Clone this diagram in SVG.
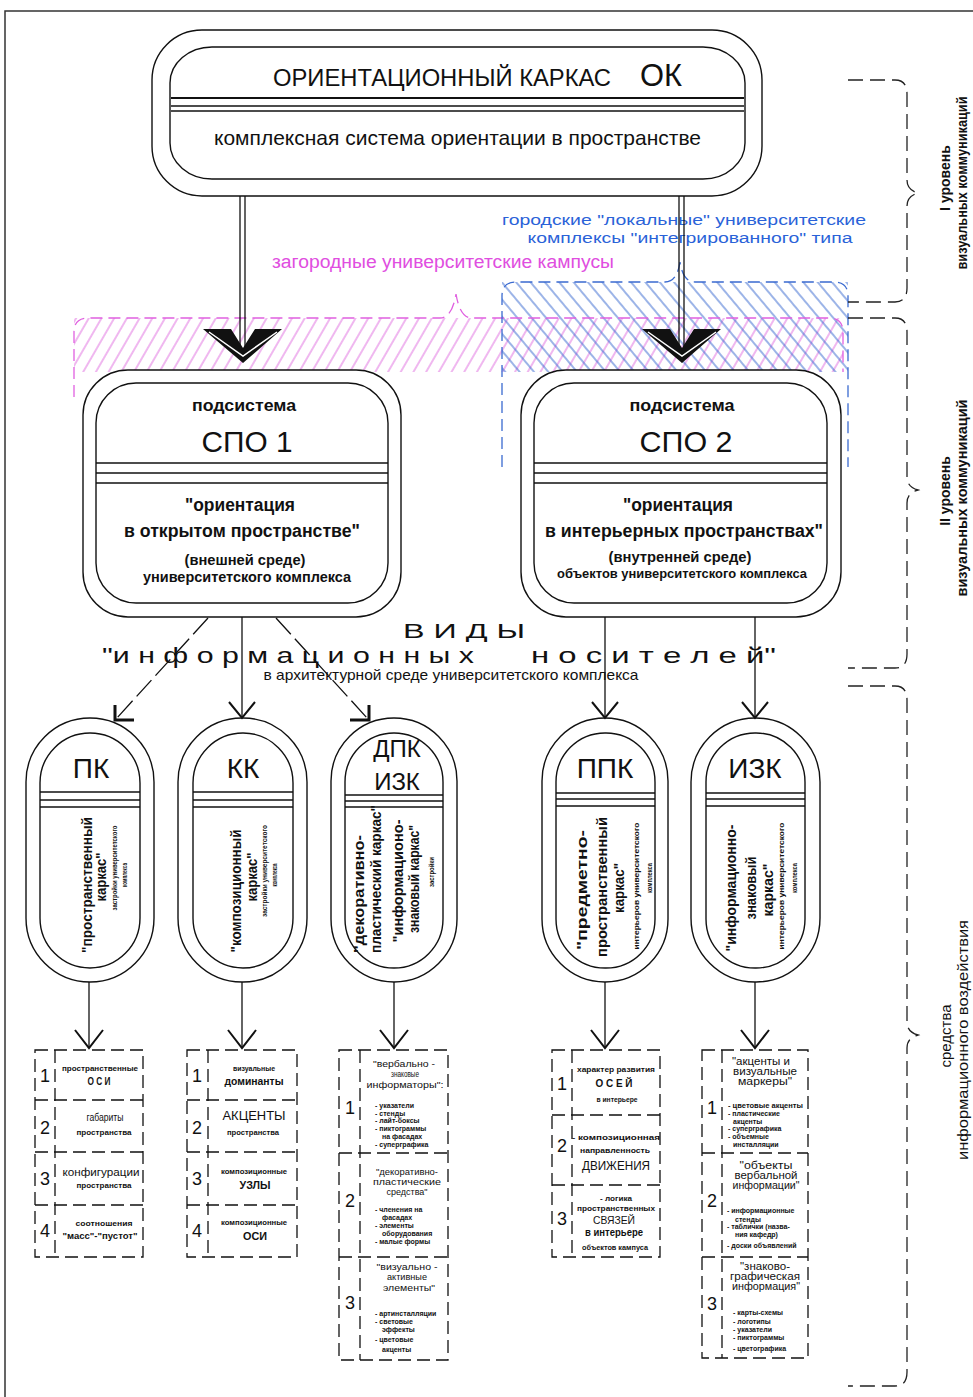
<svg xmlns="http://www.w3.org/2000/svg" width="973" height="1397" viewBox="0 0 973 1397">
<style>
.nd{fill:#fff;stroke:#111;stroke-width:1.4}
.ni{fill:none;stroke:#111;stroke-width:1.4}
.ln{fill:none;stroke:#111;stroke-width:1.4}
.t{font-family:"Liberation Sans",Arial,sans-serif;fill:#111}
.nw{font-family:"Liberation Sans Narrow","Liberation Sans",Arial,sans-serif;fill:#111}
.b{font-weight:bold}
.m{text-anchor:middle}
.dash{fill:none;stroke:#111;stroke-width:1.3;stroke-dasharray:13 6}
.br{fill:none;stroke:#222;stroke-width:1.3;stroke-dasharray:15 7}
.arr{fill:none;stroke:#111;stroke-width:2}
.arrb{fill:none;stroke:#111;stroke-width:3}
.cl{fill:none;stroke:#111;stroke-width:1.3}
.dl{fill:none;stroke:#111;stroke-width:1.3;stroke-dasharray:22 6}
.mg{fill:none;stroke:#e060e0;stroke-width:1.3;stroke-dasharray:12 6}
.bl{fill:none;stroke:#3a6ad0;stroke-width:1.3;stroke-dasharray:12 6}
.it{font-family:"Liberation Sans",Arial,sans-serif;fill:#111;font-size:7px;font-weight:bold}
</style>
<defs>
<pattern id="hm" width="11" height="11" patternUnits="userSpaceOnUse" patternTransform="rotate(30)"><line x1="5" y1="0" x2="5" y2="11" stroke="#e070e0" stroke-width="1"/></pattern>
<pattern id="hb" width="11" height="11" patternUnits="userSpaceOnUse" patternTransform="rotate(-40)"><line x1="5" y1="0" x2="5" y2="11" stroke="#3a6ad0" stroke-width="1"/></pattern>
</defs>
<rect width="973" height="1397" fill="#fff"/>
<path d="M5,1397 V11 H973" fill="none" stroke="#333" stroke-width="1.5"/>

<g id="regions">
<rect x="74" y="318" width="769" height="54" fill="url(#hm)"/>
<rect x="502" y="282" width="346" height="90" fill="url(#hb)"/>
<path class="mg" d="M74,397 V332 Q74,318 88,318 H440 Q452,318 456,294 Q460,318 472,318 H829 Q843,318 843,332 V372"/>
<path class="bl" d="M502,467 V296 Q502,282 516,282 H665 Q677,282 680,262 Q683,282 695,282 H834 Q848,282 848,296 V467"/>
<text class="nw" x="684" y="225" text-anchor="middle" font-size="15.5" style="fill:#2a62d8" textLength="364" lengthAdjust="spacingAndGlyphs">городские "локальные" университетские</text>
<text class="nw" x="690" y="243" text-anchor="middle" font-size="15.5" style="fill:#2a62d8" textLength="325" lengthAdjust="spacingAndGlyphs">комплексы "интегрированного" типа</text>
<text class="nw" x="443" y="268" text-anchor="middle" font-size="18" style="fill:#e04ee0" textLength="342" lengthAdjust="spacingAndGlyphs">загородные университетские кампусы</text>
</g>

<g id="node-ok">
<rect x="152" y="30" width="610" height="166" rx="50" class="nd"/>
<rect x="170" y="47" width="575" height="132" rx="42" ry="36" class="ni"/>
<line x1="171" y1="98" x2="744" y2="98" stroke="#111" stroke-width="2"/>
<line x1="171" y1="106" x2="744" y2="106" class="ln"/>
<line x1="171" y1="111" x2="744" y2="111" class="ln"/>
<text class="nw" x="273" y="86" font-size="24" textLength="338" lengthAdjust="spacingAndGlyphs">ОРИЕНТАЦИОННЫЙ КАРКАС</text>
<text class="nw" x="640" y="86" font-size="32" textLength="42" lengthAdjust="spacingAndGlyphs">ОК</text>
<text class="nw" x="214" y="145" font-size="21" textLength="487" lengthAdjust="spacingAndGlyphs">комплексная система ориентации в пространстве</text>
</g>

<g id="node-spo1">
<rect x="83" y="370" width="318" height="247" rx="45" class="nd"/>
<rect x="96" y="383" width="292" height="220" rx="40" class="ni"/>
<line x1="96" y1="463" x2="388" y2="463" class="ln"/>
<line x1="96" y1="473" x2="388" y2="473" class="ln"/>
<line x1="96" y1="483" x2="388" y2="483" class="ln"/>
<text class="t b m" x="244" y="411" font-size="17" textLength="104" lengthAdjust="spacingAndGlyphs">подсистема</text>
<text class="t m" x="247" y="452" font-size="30" textLength="91" lengthAdjust="spacingAndGlyphs">СПО 1</text>
<text class="t b m" x="240" y="511" font-size="18" textLength="110" lengthAdjust="spacingAndGlyphs">"ориентация</text>
<text class="t b m" x="242" y="537" font-size="18" textLength="236" lengthAdjust="spacingAndGlyphs">в открытом пространстве"</text>
<text class="t b m" x="245" y="565" font-size="15" textLength="121" lengthAdjust="spacingAndGlyphs">(внешней среде)</text>
<text class="t b m" x="247" y="582" font-size="15" textLength="208" lengthAdjust="spacingAndGlyphs">университетского комплекса</text>
</g>

<g id="node-spo2">
<rect x="521" y="370" width="320" height="247" rx="45" class="nd"/>
<rect x="534" y="383" width="293" height="220" rx="40" class="ni"/>
<line x1="534" y1="463" x2="827" y2="463" class="ln"/>
<line x1="534" y1="473" x2="827" y2="473" class="ln"/>
<line x1="534" y1="483" x2="827" y2="483" class="ln"/>
<text class="t b m" x="682" y="411" font-size="17" textLength="105" lengthAdjust="spacingAndGlyphs">подсистема</text>
<text class="t m" x="686" y="452" font-size="30" textLength="93" lengthAdjust="spacingAndGlyphs">СПО 2</text>
<text class="t b m" x="678" y="511" font-size="18" textLength="110" lengthAdjust="spacingAndGlyphs">"ориентация</text>
<text class="t b m" x="684" y="537" font-size="18" textLength="278" lengthAdjust="spacingAndGlyphs">в интерьерных пространствах"</text>
<text class="t b m" x="680" y="562" font-size="15" textLength="143" lengthAdjust="spacingAndGlyphs">(внутренней среде)</text>
<text class="t b m" x="682" y="578" font-size="13" textLength="250" lengthAdjust="spacingAndGlyphs">объектов университетского комплекса</text>
</g>

<g id="label-vidy">
<text class="t m" x="464" y="638" font-size="20" textLength="122" lengthAdjust="spacingAndGlyphs">В И Д Ы</text>
<text class="t" x="102" y="663" font-size="22" textLength="372" lengthAdjust="spacingAndGlyphs">"и н ф о р м а ц и о н н ы х</text>
<text class="t" x="531" y="663" font-size="22" textLength="245" lengthAdjust="spacingAndGlyphs">н о с и т е л е й"</text>
<text class="nw m" x="451" y="680" font-size="15" textLength="375" lengthAdjust="spacingAndGlyphs">в архитектурной среде университетского комплекса</text>
</g>

<g id="node-pk">
<rect x="26" y="718" width="128" height="264" rx="64" class="nd"/>
<rect x="40" y="733" width="100" height="235" rx="50" class="ni"/>
<line x1="40" y1="792" x2="140" y2="792" class="ln"/>
<line x1="40" y1="800" x2="140" y2="800" class="ln"/>
<line x1="40" y1="807" x2="140" y2="807" class="ln"/>
<text class="t m" x="91" y="778" font-size="28">ПК</text>
<text class="t b m" transform="translate(92,885) rotate(-90)" font-size="15" textLength="136" lengthAdjust="spacingAndGlyphs">"пространственный</text>
<text class="t b m" transform="translate(106,877) rotate(-90)" font-size="15" textLength="49" lengthAdjust="spacingAndGlyphs">каркас"</text>
<text class="t b m" transform="translate(117,868) rotate(-90)" font-size="6.5" textLength="85" lengthAdjust="spacingAndGlyphs">застройки университетского</text>
<text class="t b m" transform="translate(127,875) rotate(-90)" font-size="6.5" textLength="24" lengthAdjust="spacingAndGlyphs">комплекса</text>
</g>

<g id="node-kk">
<rect x="178" y="718" width="129" height="264" rx="64" class="nd"/>
<rect x="193" y="733" width="100" height="235" rx="50" class="ni"/>
<line x1="193" y1="792" x2="293" y2="792" class="ln"/>
<line x1="193" y1="800" x2="293" y2="800" class="ln"/>
<line x1="193" y1="807" x2="293" y2="807" class="ln"/>
<text class="t m" x="243" y="778" font-size="28">КК</text>
<text class="t b m" transform="translate(241,891) rotate(-90)" font-size="15" textLength="123" lengthAdjust="spacingAndGlyphs">"композиционный</text>
<text class="t b m" transform="translate(257,877) rotate(-90)" font-size="15" textLength="49" lengthAdjust="spacingAndGlyphs">каркас"</text>
<text class="t b m" transform="translate(267,871) rotate(-90)" font-size="6.5" textLength="92" lengthAdjust="spacingAndGlyphs">застройки университетского</text>
<text class="t b m" transform="translate(277,875) rotate(-90)" font-size="6.5" textLength="23" lengthAdjust="spacingAndGlyphs">комплекса</text>
</g>

<g id="node-dpk">
<rect x="331" y="718" width="126" height="264" rx="63" class="nd"/>
<rect x="345" y="733" width="98" height="235" rx="49" class="ni"/>
<line x1="345" y1="795" x2="443" y2="795" class="ln"/>
<line x1="345" y1="801" x2="443" y2="801" class="ln"/>
<line x1="345" y1="807" x2="443" y2="807" class="ln"/>
<text class="t m" x="397" y="757" font-size="24">ДПК</text>
<text class="t m" x="397" y="790" font-size="24">ИЗК</text>
<text class="t b m" transform="translate(364,894) rotate(-90)" font-size="15" textLength="118" lengthAdjust="spacingAndGlyphs">"декоративно-</text>
<text class="t b m" transform="translate(381,879) rotate(-90)" font-size="15" textLength="148" lengthAdjust="spacingAndGlyphs">пластический каркас"</text>
<text class="t b m" transform="translate(403,881) rotate(-90)" font-size="15" textLength="123" lengthAdjust="spacingAndGlyphs">"информационо-</text>
<text class="t b m" transform="translate(419,879) rotate(-90)" font-size="15" textLength="108" lengthAdjust="spacingAndGlyphs">знаковый каркас"</text>
<text class="t b m" transform="translate(434,872) rotate(-90)" font-size="7" textLength="30" lengthAdjust="spacingAndGlyphs">застройки</text>
</g>

<g id="node-ppk">
<rect x="542" y="718" width="126" height="264" rx="63" class="nd"/>
<rect x="556" y="733" width="99" height="235" rx="49" class="ni"/>
<line x1="556" y1="793" x2="655" y2="793" class="ln"/>
<line x1="556" y1="799" x2="655" y2="799" class="ln"/>
<line x1="556" y1="806" x2="655" y2="806" class="ln"/>
<text class="t m" x="605" y="778" font-size="28">ППК</text>
<text class="t b m" transform="translate(587,890) rotate(-90)" font-size="15" textLength="120" lengthAdjust="spacingAndGlyphs">"предметно-</text>
<text class="t b m" transform="translate(607,887) rotate(-90)" font-size="15" textLength="140" lengthAdjust="spacingAndGlyphs">пространственный</text>
<text class="t b m" transform="translate(624,888) rotate(-90)" font-size="15" textLength="50" lengthAdjust="spacingAndGlyphs">каркас"</text>
<text class="t b m" transform="translate(639,886) rotate(-90)" font-size="6.5" textLength="127" lengthAdjust="spacingAndGlyphs">интерьеров университетского</text>
<text class="t b m" transform="translate(652,878) rotate(-90)" font-size="6.5" textLength="30" lengthAdjust="spacingAndGlyphs">комплекса</text>
</g>

<g id="node-izk">
<rect x="691" y="718" width="129" height="264" rx="64" class="nd"/>
<rect x="706" y="733" width="99" height="235" rx="49" class="ni"/>
<line x1="706" y1="793" x2="805" y2="793" class="ln"/>
<line x1="706" y1="799" x2="805" y2="799" class="ln"/>
<line x1="706" y1="806" x2="805" y2="806" class="ln"/>
<text class="t m" x="755" y="778" font-size="28">ИЗК</text>
<text class="t b m" transform="translate(736,888) rotate(-90)" font-size="15" textLength="127" lengthAdjust="spacingAndGlyphs">"информационно-</text>
<text class="t b m" transform="translate(756,888) rotate(-90)" font-size="15" textLength="63" lengthAdjust="spacingAndGlyphs">знаковый</text>
<text class="t b m" transform="translate(773,890) rotate(-90)" font-size="15" textLength="53" lengthAdjust="spacingAndGlyphs">каркас"</text>
<text class="t b m" transform="translate(784,886) rotate(-90)" font-size="6.5" textLength="127" lengthAdjust="spacingAndGlyphs">интерьеров университетского</text>
<text class="t b m" transform="translate(797,878) rotate(-90)" font-size="6.5" textLength="30" lengthAdjust="spacingAndGlyphs">комплекса</text>
</g>

<g id="table-pk">
<rect x="35" y="1050" width="108" height="207" class="dash"/>
<line x1="55" y1="1050" x2="55" y2="1257" class="dash"/>
<line x1="35" y1="1100" x2="143" y2="1100" class="dash"/>
<line x1="35" y1="1152" x2="143" y2="1152" class="dash"/>
<line x1="35" y1="1205" x2="143" y2="1205" class="dash"/>
<g class="t m" font-size="18"><text x="45" y="1082">1</text><text x="45" y="1134">2</text><text x="45" y="1185">3</text><text x="45" y="1237">4</text></g>
<text class="t b m" x="100" y="1071" font-size="8" textLength="76" lengthAdjust="spacingAndGlyphs">пространственные</text>
<text class="t b m" x="99" y="1085" font-size="10" textLength="23" lengthAdjust="spacingAndGlyphs">О С И</text>
<text class="t m" x="105" y="1121" font-size="10" textLength="37" lengthAdjust="spacingAndGlyphs">габариты</text>
<text class="t b m" x="104" y="1135" font-size="8" textLength="55" lengthAdjust="spacingAndGlyphs">пространства</text>
<text class="t m" x="101" y="1176" font-size="11" textLength="77" lengthAdjust="spacingAndGlyphs">конфигурации</text>
<text class="t b m" x="104" y="1188" font-size="8" textLength="55" lengthAdjust="spacingAndGlyphs">пространства</text>
<text class="t b m" x="104" y="1226" font-size="8" textLength="57" lengthAdjust="spacingAndGlyphs">соотношения</text>
<text class="t b m" x="100" y="1239" font-size="9" textLength="75" lengthAdjust="spacingAndGlyphs">"масс"-"пустот"</text>
</g>

<g id="table-kk">
<rect x="187" y="1050" width="110" height="207" class="dash"/>
<line x1="208" y1="1050" x2="208" y2="1257" class="dash"/>
<line x1="187" y1="1100" x2="297" y2="1100" class="dash"/>
<line x1="187" y1="1152" x2="297" y2="1152" class="dash"/>
<line x1="187" y1="1205" x2="297" y2="1205" class="dash"/>
<g class="t m" font-size="18"><text x="197" y="1082">1</text><text x="197" y="1134">2</text><text x="197" y="1185">3</text><text x="197" y="1237">4</text></g>
<text class="t b m" x="254" y="1071" font-size="8" textLength="42" lengthAdjust="spacingAndGlyphs">визуальные</text>
<text class="t b m" x="254" y="1085" font-size="10" textLength="59" lengthAdjust="spacingAndGlyphs">доминанты</text>
<text class="t m" x="254" y="1120" font-size="12" textLength="63" lengthAdjust="spacingAndGlyphs">АКЦЕНТЫ</text>
<text class="t b m" x="253" y="1135" font-size="8" textLength="52" lengthAdjust="spacingAndGlyphs">пространства</text>
<text class="t b m" x="254" y="1174" font-size="8" textLength="66" lengthAdjust="spacingAndGlyphs">композиционные</text>
<text class="t b m" x="255" y="1189" font-size="10" textLength="31" lengthAdjust="spacingAndGlyphs">УЗЛЫ</text>
<text class="t b m" x="254" y="1225" font-size="8" textLength="66" lengthAdjust="spacingAndGlyphs">композиционные</text>
<text class="t b m" x="255" y="1240" font-size="10" textLength="24" lengthAdjust="spacingAndGlyphs">ОСИ</text>
</g>

<g id="table-dpk">
<rect x="339" y="1050" width="109" height="310" class="dash"/>
<line x1="360" y1="1050" x2="360" y2="1360" class="dash"/>
<line x1="339" y1="1153" x2="448" y2="1153" class="dash"/>
<line x1="339" y1="1257" x2="448" y2="1257" class="dash"/>
<g class="t m" font-size="18"><text x="350" y="1114">1</text><text x="350" y="1207">2</text><text x="350" y="1309">3</text></g>
<g class="t m" font-size="9">
<text x="404" y="1067" textLength="62" lengthAdjust="spacingAndGlyphs">"вербально -</text>
<text x="405" y="1077" textLength="28" lengthAdjust="spacingAndGlyphs">знаковые</text>
<text x="405" y="1088" textLength="77" lengthAdjust="spacingAndGlyphs">информаторы":</text>
<text x="407" y="1175" textLength="62" lengthAdjust="spacingAndGlyphs">"декоративно-</text>
<text x="407" y="1185" textLength="68" lengthAdjust="spacingAndGlyphs">пластические</text>
<text x="407" y="1195" textLength="41" lengthAdjust="spacingAndGlyphs">средства"</text>
<text x="407" y="1270" textLength="61" lengthAdjust="spacingAndGlyphs">"визуально -</text>
<text x="407" y="1280" textLength="40" lengthAdjust="spacingAndGlyphs">активные</text>
<text x="409" y="1291" textLength="52" lengthAdjust="spacingAndGlyphs">элементы"</text>
</g>
<text class="it" x="375" y="1108">- указатели</text>
<text class="it" x="375" y="1116">- стенды</text>
<text class="it" x="375" y="1123">- лайт-боксы</text>
<text class="it" x="375" y="1131">- пиктограммы</text>
<text class="it" x="382" y="1139">на фасадах</text>
<text class="it" x="375" y="1147">- суперграфика</text>
<text class="it" x="375" y="1212">- членения на</text>
<text class="it" x="382" y="1220">фасадах</text>
<text class="it" x="375" y="1228">- элементы</text>
<text class="it" x="382" y="1236">оборудования</text>
<text class="it" x="375" y="1244">- малые формы</text>
<text class="it" x="375" y="1316">- артинсталляции</text>
<text class="it" x="375" y="1324">- световые</text>
<text class="it" x="382" y="1332">эффекты</text>
<text class="it" x="375" y="1342">- цветовые</text>
<text class="it" x="382" y="1352">акценты</text>
</g>

<g id="table-ppk">
<rect x="552" y="1050" width="108" height="207" class="dash"/>
<line x1="572" y1="1050" x2="572" y2="1257" class="dash"/>
<line x1="552" y1="1115" x2="660" y2="1115" class="dash"/>
<line x1="552" y1="1185" x2="660" y2="1185" class="dash"/>
<g class="t m" font-size="18"><text x="562" y="1090">1</text><text x="562" y="1152">2</text><text x="562" y="1225">3</text></g>
<text class="t b m" x="616" y="1072" font-size="8" textLength="78" lengthAdjust="spacingAndGlyphs">характер развития</text>
<text class="t b m" x="614" y="1087" font-size="10" textLength="37" lengthAdjust="spacingAndGlyphs">О С Е Й</text>
<text class="t b m" x="617" y="1102" font-size="7.5" textLength="41" lengthAdjust="spacingAndGlyphs">в интерьере</text>
<text class="t b m" x="616" y="1140" font-size="8" textLength="88" lengthAdjust="spacingAndGlyphs">- композиционная</text>
<text class="t b m" x="615" y="1153" font-size="8" textLength="70" lengthAdjust="spacingAndGlyphs">направленность</text>
<text class="t m" x="616" y="1170" font-size="13" textLength="68" lengthAdjust="spacingAndGlyphs">ДВИЖЕНИЯ</text>
<text class="t b m" x="616" y="1201" font-size="8" textLength="32" lengthAdjust="spacingAndGlyphs">- логика</text>
<text class="t b m" x="616" y="1211" font-size="8" textLength="78" lengthAdjust="spacingAndGlyphs">пространственных</text>
<text class="t m" x="614" y="1224" font-size="11" textLength="42" lengthAdjust="spacingAndGlyphs">СВЯЗЕЙ</text>
<text class="t b m" x="614" y="1236" font-size="10" textLength="58" lengthAdjust="spacingAndGlyphs">в интерьере</text>
<text class="t b m" x="615" y="1250" font-size="7" textLength="66" lengthAdjust="spacingAndGlyphs">объектов кампуса</text>
</g>

<g id="table-izk">
<rect x="702" y="1050" width="106" height="308" class="dash"/>
<line x1="722" y1="1050" x2="722" y2="1358" class="dash"/>
<line x1="702" y1="1153" x2="808" y2="1153" class="dash"/>
<line x1="702" y1="1257" x2="808" y2="1257" class="dash"/>
<g class="t m" font-size="18"><text x="712" y="1114">1</text><text x="712" y="1207">2</text><text x="712" y="1310">3</text></g>
<g class="t m" font-size="10">
<text x="761" y="1065" textLength="58" lengthAdjust="spacingAndGlyphs">"акценты и</text>
<text x="765" y="1075" textLength="64" lengthAdjust="spacingAndGlyphs">визуальные</text>
<text x="765" y="1085" textLength="54" lengthAdjust="spacingAndGlyphs">маркеры"</text>
<text x="766" y="1169" textLength="53" lengthAdjust="spacingAndGlyphs">"объекты</text>
<text x="766" y="1179" textLength="63" lengthAdjust="spacingAndGlyphs">вербальной</text>
<text x="766" y="1189" textLength="67" lengthAdjust="spacingAndGlyphs">информации"</text>
<text x="765" y="1270" textLength="50" lengthAdjust="spacingAndGlyphs">"знаково-</text>
<text x="765" y="1280" textLength="70" lengthAdjust="spacingAndGlyphs">графическая</text>
<text x="766" y="1290" textLength="68" lengthAdjust="spacingAndGlyphs">информация"</text>
</g>
<text class="it" x="728" y="1108" textLength="75" lengthAdjust="spacingAndGlyphs">- цветовые акценты</text>
<text class="it" x="728" y="1116">- пластические</text>
<text class="it" x="733" y="1124">акценты</text>
<text class="it" x="728" y="1131">- суперграфика</text>
<text class="it" x="728" y="1139">- объемные</text>
<text class="it" x="733" y="1147">инсталляции</text>
<text class="it" x="727" y="1213">- информационные</text>
<text class="it" x="735" y="1222">стенды</text>
<text class="it" x="727" y="1229">- таблички  (назва-</text>
<text class="it" x="735" y="1237">ния кафедр)</text>
<text class="it" x="727" y="1248">- доски объявлений</text>
<text class="it" x="733" y="1315">- карты-схемы</text>
<text class="it" x="733" y="1324">- логотипы</text>
<text class="it" x="733" y="1332">- указатели</text>
<text class="it" x="733" y="1340">- пиктограммы</text>
<text class="it" x="733" y="1351">- цветографика</text>
</g>

<g id="braces">
<path class="br" d="M848,80 H895 Q907,80 907,94 V180 Q907,190 918,193 Q907,196 907,206 V288 Q907,302 895,302 H848"/>
<path class="br" d="M848,318 H895 Q907,318 907,332 V477 Q907,487 918,490 Q907,493 907,503 V654 Q907,668 895,668 H848"/>
<path class="br" d="M848,686 H895 Q907,686 907,700 V1022 Q907,1032 918,1035 Q907,1038 907,1048 V1372 Q907,1386 895,1386 H848"/>
<text class="t b m" transform="translate(950,178) rotate(-90)" font-size="14">I  уровень</text>
<text class="t b m" transform="translate(967,183) rotate(-90)" font-size="14" textLength="173" lengthAdjust="spacingAndGlyphs">визуальных коммуникаций</text>
<text class="t b m" transform="translate(950,491) rotate(-90)" font-size="14">II  уровень</text>
<text class="t b m" transform="translate(967,498) rotate(-90)" font-size="14" textLength="197" lengthAdjust="spacingAndGlyphs">визуальных коммуникаций</text>
<text class="t m" transform="translate(951,1036) rotate(-90)" font-size="15">средства</text>
<text class="t m" transform="translate(968,1040) rotate(-90)" font-size="15" textLength="240" lengthAdjust="spacingAndGlyphs">информационного   воздействия</text>
</g>

<g id="connectors">
<line x1="240" y1="196" x2="240" y2="350" class="cl"/>
<line x1="245" y1="196" x2="245" y2="350" class="cl"/>
<polygon points="203,329 231,329 243,348 255,329 282,329 243,363" fill="#111"/>
<polyline points="209,332 243,356 277,332" fill="none" stroke="#fff" stroke-width="1.5"/>
<line x1="679" y1="196" x2="679" y2="350" class="cl"/>
<line x1="684" y1="196" x2="684" y2="350" class="cl"/>
<polygon points="642,329 670,329 682,348 694,329 721,329 682,363" fill="#111"/>
<polyline points="648,332 682,356 716,332" fill="none" stroke="#fff" stroke-width="1.5"/>
<line x1="208" y1="618" x2="116" y2="719" class="dl"/>
<path class="arrb" d="M115,705 V720 H134"/>
<line x1="242" y1="617" x2="242" y2="717" class="cl"/>
<path class="arr" d="M229,702 L242,718 L255,702"/>
<line x1="276" y1="618" x2="368" y2="719" class="dl"/>
<path class="arrb" d="M350,720 H369 V705"/>
<line x1="605" y1="617" x2="605" y2="717" class="cl"/>
<path class="arr" d="M592,702 L605,718 L618,702"/>
<line x1="755" y1="617" x2="755" y2="717" class="cl"/>
<path class="arr" d="M742,702 L755,718 L768,702"/>
<line x1="89" y1="982" x2="89" y2="1047" class="cl"/>
<path class="arr" d="M75,1030 L89,1048 L103,1030"/>
<line x1="242" y1="982" x2="242" y2="1047" class="cl"/>
<path class="arr" d="M228,1030 L242,1048 L256,1030"/>
<line x1="394" y1="982" x2="394" y2="1047" class="cl"/>
<path class="arr" d="M380,1030 L394,1048 L408,1030"/>
<line x1="605" y1="982" x2="605" y2="1047" class="cl"/>
<path class="arr" d="M591,1030 L605,1048 L619,1030"/>
<line x1="755" y1="982" x2="755" y2="1047" class="cl"/>
<path class="arr" d="M741,1030 L755,1048 L769,1030"/>
</g>
</svg>
